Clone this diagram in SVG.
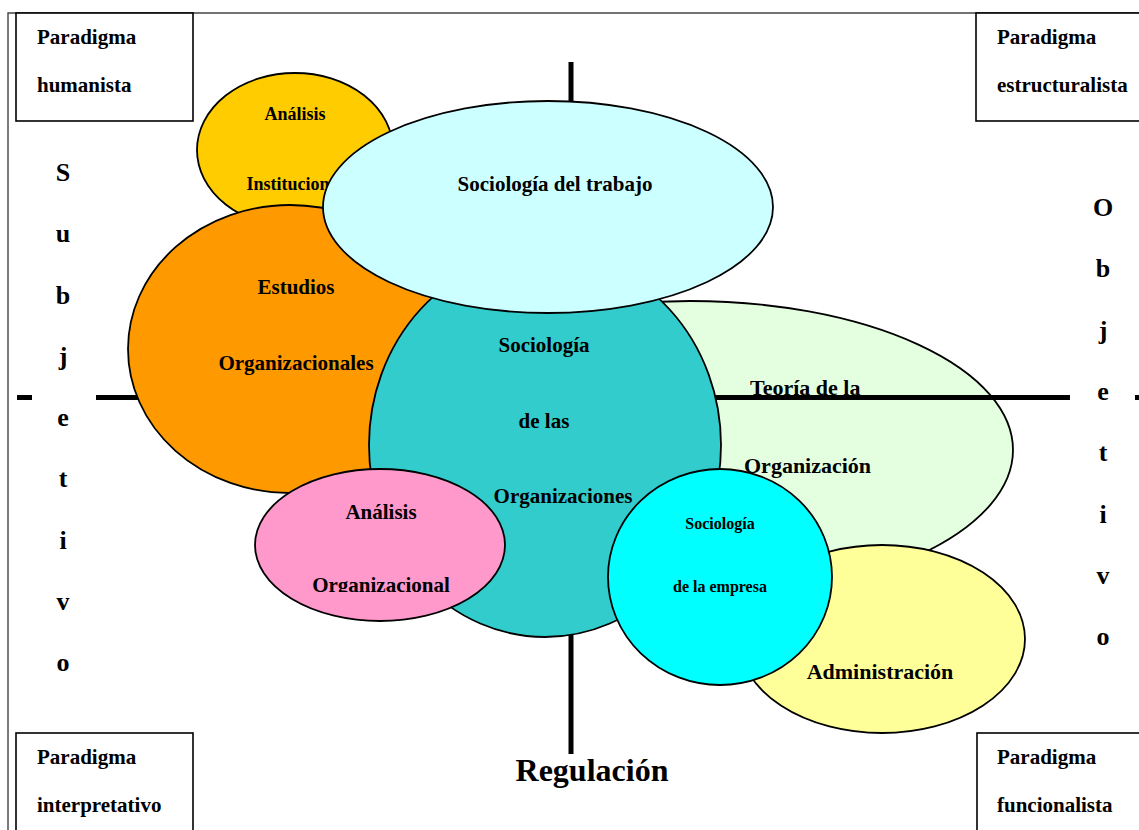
<svg xmlns="http://www.w3.org/2000/svg" width="1139" height="830" viewBox="0 0 1139 830">
  <style>
    text { font-family: "Liberation Serif", "Times New Roman", serif; font-weight: bold; fill: #000; }
    .blob { stroke: #000; stroke-width: 1.8; }
    .box { fill: #fff; stroke: #000; stroke-width: 1.6; }
    .frame { stroke: #444; stroke-width: 1.4; fill: none; }
    .axis { fill: #000; }
    .t21 { font-size: 21px; }
    .t22 { font-size: 22px; }
    .t18 { font-size: 18px; }
    .t16 { font-size: 16px; }
    .letter { font-size: 26px; text-anchor: middle; }
    .mid { text-anchor: middle; }
  </style>
  <defs>
    <clipPath id="clip-pink-label">
      <rect x="250" y="560" width="260" height="32"/>
    </clipPath>
  </defs>

  <!-- page frame -->
  <path class="frame" d="M8 830 V13 H1139"/>

  <!-- Análisis Institucional -->
  <g id="analisis-institucional">
    <ellipse class="blob" cx="295" cy="150" rx="98" ry="77" fill="#FFCC00"/>
    <text class="t18 mid" x="295" y="120">Análisis</text>
    <text class="t18 mid" x="295" y="190">Institucional</text>
  </g>

  <!-- Teoría de la Organización -->
  <g id="teoria-organizacion">
    <ellipse class="blob" cx="690" cy="450" rx="323" ry="149" fill="#E4FFE0"/>
    <text class="t22" x="750" y="395">Teoría de la</text>
    <text class="t22" x="744" y="473">Organización</text>
  </g>

  <!-- axes -->
  <g id="axes">
    <rect class="axis" x="17" y="395" width="15" height="5"/>
    <rect class="axis" x="96" y="395" width="974" height="5"/>
    <rect class="axis" x="1135" y="395" width="10" height="5"/>
    <rect class="axis" x="568.5" y="62" width="5" height="692"/>
  </g>

  <!-- Estudios Organizacionales -->
  <g id="estudios-organizacionales">
    <ellipse class="blob" cx="290" cy="349" rx="162" ry="144" fill="#FF9900"/>
    <text class="t21 mid" x="296" y="294">Estudios</text>
    <text class="t21 mid" x="296" y="370">Organizacionales</text>
  </g>

  <!-- Sociología de las Organizaciones -->
  <g id="sociologia-organizaciones">
    <ellipse class="blob" cx="545" cy="445" rx="176" ry="192" fill="#33CCCC"/>
    <text class="t21 mid" x="544" y="352">Sociología</text>
    <text class="t21 mid" x="544" y="428">de las</text>
    <text class="t21 mid" x="563" y="503">Organizaciones</text>
  </g>

  <!-- Sociología del trabajo -->
  <g id="sociologia-trabajo">
    <ellipse class="blob" cx="548" cy="207" rx="225" ry="106" fill="#CCFFFF"/>
    <text class="t21 mid" x="555" y="191">Sociología del trabajo</text>
  </g>

  <!-- Análisis Organizacional -->
  <g id="analisis-organizacional">
    <ellipse class="blob" cx="380" cy="545" rx="125" ry="76" fill="#FF99CC"/>
    <text class="t21 mid" x="381" y="519">Análisis</text>
    <text class="t21 mid" x="381" y="592" clip-path="url(#clip-pink-label)">Organizacional</text>
  </g>

  <!-- Administración -->
  <g id="administracion">
    <ellipse class="blob" cx="882" cy="639" rx="143" ry="94" fill="#FFFF99"/>
    <text class="t22 mid" x="880" y="679">Administración</text>
  </g>

  <!-- Sociología de la empresa -->
  <g id="sociologia-empresa">
    <ellipse class="blob" cx="720" cy="577" rx="112" ry="108" fill="#00FFFF"/>
    <text class="t16 mid" x="720" y="529">Sociología</text>
    <text class="t16 mid" x="720" y="592">de la empresa</text>
  </g>

  <!-- paradigm corner boxes -->
  <g id="paradigma-humanista">
    <rect class="box" x="16" y="13" width="177" height="108"/>
    <text class="t21" x="37" y="44">Paradigma</text>
    <text class="t21" x="37" y="92">humanista</text>
  </g>
  <g id="paradigma-estructuralista">
    <rect class="box" x="976" y="13" width="180" height="108"/>
    <text class="t21" x="997" y="44">Paradigma</text>
    <text class="t21" x="997" y="92">estructuralista</text>
  </g>
  <g id="paradigma-interpretativo">
    <rect class="box" x="16" y="733" width="177" height="110"/>
    <text class="t21" x="37" y="764">Paradigma</text>
    <text class="t21" x="37" y="812">interpretativo</text>
  </g>
  <g id="paradigma-funcionalista">
    <rect class="box" x="977" y="733" width="180" height="110"/>
    <text class="t21" x="997" y="764">Paradigma</text>
    <text class="t21" x="997" y="812">funcionalista</text>
  </g>

  <!-- axis labels -->
  <g id="subjetivo">
    <text class="letter" x="63" y="181">S</text>
    <text class="letter" x="63" y="242">u</text>
    <text class="letter" x="63" y="304">b</text>
    <text class="letter" x="63" y="365">j</text>
    <text class="letter" x="63" y="426">e</text>
    <text class="letter" x="63" y="487">t</text>
    <text class="letter" x="63" y="549">i</text>
    <text class="letter" x="63" y="610">v</text>
    <text class="letter" x="63" y="671">o</text>
  </g>
  <g id="objetivo">
    <text class="letter" x="1103" y="216">O</text>
    <text class="letter" x="1103" y="277">b</text>
    <text class="letter" x="1103" y="339">j</text>
    <text class="letter" x="1103" y="400">e</text>
    <text class="letter" x="1103" y="461">t</text>
    <text class="letter" x="1103" y="523">i</text>
    <text class="letter" x="1103" y="584">v</text>
    <text class="letter" x="1103" y="645">o</text>
  </g>
  <g id="regulacion">
    <text x="592" y="781" font-size="32" text-anchor="middle">Regulación</text>
  </g>
</svg>
